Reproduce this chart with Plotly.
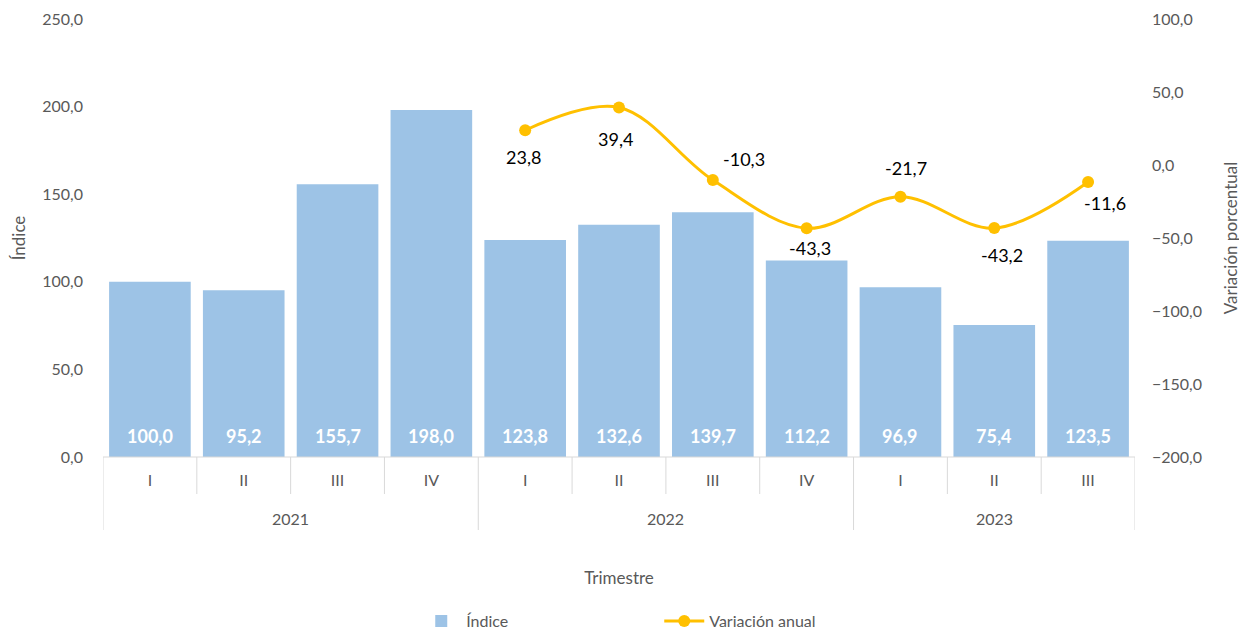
import plotly.graph_objects as go

years = ["2021", "2022", "2023"]
year_sizes = [4, 4, 3]
quarters = ["I", "II", "III", "IV", "I", "II", "III", "IV", "I", "II", "III"]
indice = [100.0, 95.2, 155.7, 198.0, 123.8, 132.6, 139.7, 112.2, 96.9, 75.4, 123.5]

# variación anual starts in 2022-I (5th quarter)
var_start = 4
variacion = [23.8, 39.4, -10.3, -43.3, -21.7, -43.2, -11.6]

# pixel offsets of the line labels from their points (Excel-like placement)
label_dx = [-2, -4, 31, 3, 6, 8, 17]
label_dy = [-27, -32, 21, -20, 29, -27, -21]

font_family = "Lato, Open Sans, sans-serif"
gray = "#595959"
grid = "#d9d9d9"

xs = list(range(len(quarters)))
fmt = lambda v: f"{v:.1f}".replace(".", ",")

fig = go.Figure()

fig.add_trace(go.Bar(
    x=xs,
    y=indice,
    name="Índice",
    width=0.87,
    marker=dict(color="#9dc3e6", line=dict(width=0)),
))

fig.add_trace(go.Scatter(
    x=xs[var_start:],
    y=variacion,
    name="Variación anual",
    yaxis="y2",
    mode="lines+markers",
    line=dict(color="#ffc000", width=3, shape="spline", smoothing=1.0),
    marker=dict(color="#ffc000", size=12),
    cliponaxis=False,
))

annotations = []
# bar value labels, inside near the base
for x, v in zip(xs, indice):
    annotations.append(dict(
        x=x, y=0, xref="x", yref="y", yshift=21, text=fmt(v), showarrow=False,
        font=dict(color="white", size=18, family=font_family, weight="bold"),
    ))
# line value labels
for x, v, dx, dy in zip(xs[var_start:], variacion, label_dx, label_dy):
    annotations.append(dict(
        x=x, y=v, xref="x", yref="y2", xshift=dx, yshift=dy, text=fmt(v),
        showarrow=False, font=dict(color="black", size=18, family=font_family),
    ))

# category separators below the plot: short ones between quarters, long ones between years
shapes = []
boundaries = [0]
for n in year_sizes:
    boundaries.append(boundaries[-1] + n)
for i in range(len(quarters) + 1):
    long = i in boundaries
    shapes.append(dict(
        type="line", xref="x", yref="paper", ysizemode="pixel", yanchor=0,
        x0=i - 0.5, x1=i - 0.5, y0=0, y1=-73 if long else -37,
        line=dict(color=grid, width=1),
    ))
shapes.append(dict(type="line", xref="paper", yref="paper", x0=0, x1=1, y0=0, y1=0,
                   line=dict(color=grid, width=1)))

for k, yr in enumerate(years):
    center = (boundaries[k] + boundaries[k + 1] - 1) / 2
    annotations.append(dict(
        x=center, y=0, xref="x", yref="paper", yshift=-73, text=yr,
        showarrow=False, font=dict(size=16, color=gray),
    ))

fig.update_layout(
    width=1239, height=625,
    margin=dict(l=95, r=112, t=11, b=176),
    plot_bgcolor="white",
    paper_bgcolor="white",
    separators=",.",
    font=dict(family=font_family, size=16, color=gray),
    showlegend=True,
    shapes=shapes,
    annotations=annotations,
    legend=dict(orientation="h", x=0.539, xanchor="center", yref="container",
                y=0.019, yanchor="middle", font=dict(size=16, color=gray),
                itemwidth=40, entrywidth=188),
    xaxis=dict(
        range=[-0.5, len(quarters) - 0.5],
        tickvals=xs, ticktext=quarters,
        ticks="", showline=False, showgrid=False, zeroline=False,
        ticklabelstandoff=12,
        tickfont=dict(size=16, color=gray),
        title=dict(text="Trimestre", font=dict(size=17, color=gray), standoff=84),
        automargin=False,
    ),
    yaxis=dict(
        range=[0, 250], dtick=50, tickformat=".1f",
        showgrid=False, zeroline=False, showline=False,
        ticklabelstandoff=19,
        title=dict(text="Índice", font=dict(size=17, color=gray), standoff=12),
        automargin=False,
    ),
    yaxis2=dict(
        range=[-200, 100], dtick=50, tickformat=".1f",
        overlaying="y", side="right",
        showgrid=False, zeroline=False, showline=False,
        ticklabelstandoff=16,
        title=dict(text="Variación porcentual", font=dict(size=17, color=gray), standoff=24),
        automargin=False,
    ),
)

fig.write_html("out.html")
